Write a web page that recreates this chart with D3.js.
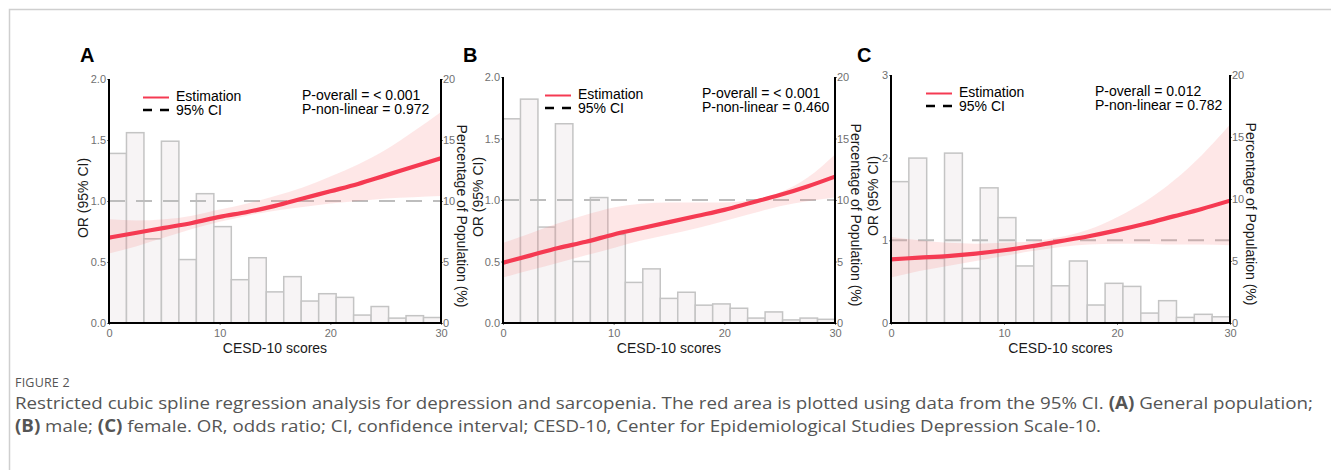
<!DOCTYPE html>
<html>
<head>
<meta charset="utf-8">
<script src="https://cdnjs.cloudflare.com/ajax/libs/d3/7.8.5/d3.min.js"></script>
<style>
  body { margin: 0; background: #fff; }
  svg text { font-family: "Liberation Sans", Arial, sans-serif; }
  .caption { font-family: "Open Sans", "Noto Sans", sans-serif; }
</style>
</head>
<body>
<svg id="fig" width="1331" height="470"></svg>
<script>
let splineScores = [0, 2.5, 5, 7.5, 10, 12.5, 15, 17.5, 20, 22.5, 25, 27.5, 30];
let xTicks = [0, 10, 20, 30];
let pctTicks = [0, 5, 10, 15, 20];
let binWidth = 30 / 19;

// A: general population
let histA = [13.9, 15.6, 6.9, 14.9, 5.2, 10.6, 7.9, 3.55, 5.35, 2.55, 3.8, 1.8, 2.4, 2.1, 0.65, 1.35, 0.4, 0.6, 0.45];
let estA = [0.70, 0.74, 0.78, 0.82, 0.87, 0.91, 0.96, 1.02, 1.08, 1.14, 1.21, 1.28, 1.35];
let lowA = [0.57, 0.63, 0.70, 0.77, 0.83, 0.88, 0.92, 0.95, 0.98, 1.00, 1.02, 1.03, 1.04];
let highA = [0.85, 0.84, 0.85, 0.88, 0.93, 0.98, 1.04, 1.11, 1.20, 1.30, 1.42, 1.57, 1.73];

// B: male
let histB = [16.6, 18.2, 7.8, 16.2, 5.0, 10.2, 7.2, 3.3, 4.4, 2.0, 2.5, 1.45, 1.55, 1.2, 0.4, 0.9, 0.25, 0.4, 0.3];
let estB = [0.49, 0.55, 0.61, 0.66, 0.72, 0.77, 0.82, 0.87, 0.92, 0.98, 1.04, 1.11, 1.19];
let lowB = [0.37, 0.43, 0.49, 0.55, 0.61, 0.67, 0.72, 0.77, 0.83, 0.89, 0.95, 0.99, 1.02];
let highB = [0.65, 0.73, 0.81, 0.88, 0.94, 0.97, 0.98, 0.98, 0.98, 1.00, 1.06, 1.18, 1.37];

// C: female
let histC = [11.4, 13.3, 5.2, 13.7, 4.4, 10.9, 8.5, 4.6, 6.3, 3.0, 5.0, 1.45, 3.2, 2.95, 0.8, 1.8, 0.45, 0.7, 0.5];
let estC = [0.77, 0.79, 0.81, 0.84, 0.88, 0.93, 0.99, 1.05, 1.12, 1.20, 1.29, 1.38, 1.48];
let lowC = [0.55, 0.63, 0.69, 0.75, 0.81, 0.87, 0.92, 0.95, 0.96, 0.96, 0.95, 0.95, 0.94];
let highC = [1.04, 1.00, 0.97, 0.96, 0.97, 0.99, 1.04, 1.13, 1.28, 1.47, 1.72, 2.03, 2.40];

let orTicksAB = [0, 0.5, 1, 1.5, 2];
let orTicksC = [0, 1, 2, 3];

let pOverall = ['< 0.001', '< 0.001', '0.012'];
let pNonLinear = ['0.972', '0.460', '0.782'];
let panelLetters = ['A', 'B', 'C'];

let panels = [
  {letter: panelLetters[0], left: 109, right: 441, top: 79, bottom: 323, orMax: 2, orTicks: orTicksAB, fmt: '.1f',
   hist: histA, est: estA, low: lowA, high: highA, p1: pOverall[0], p2: pNonLinear[0],
   letterX: 80, legendDx: 34, pDx: 193, leftLabelDx: -26},
  {letter: panelLetters[1], left: 503, right: 835, top: 77, bottom: 323, orMax: 2, orTicks: orTicksAB, fmt: '.1f',
   hist: histB, est: estB, low: lowB, high: highB, p1: pOverall[1], p2: pNonLinear[1],
   letterX: 463, legendDx: 42, pDx: 199, leftLabelDx: -25},
  {letter: panelLetters[2], left: 891, right: 1230, top: 75, bottom: 323, orMax: 3, orTicks: orTicksC, fmt: 'd',
   hist: histC, est: estC, low: lowC, high: highC, p1: pOverall[2], p2: pNonLinear[2],
   letterX: 857, legendDx: 35, pDx: 204, leftLabelDx: -18}
];

let svg = d3.select('#fig');

// frame around the figure
svg.append('path')
   .attr('d', 'M9.5,470 V9.5 H1331')
   .style('fill', 'none')
   .style('stroke', '#cfcfcf')
   .style('stroke-width', 1.5);

function drawPanel(p, idx) {
  let g = svg.append('g');
  let x = d3.scaleLinear().domain([0, 30]).range([p.left, p.right]);
  let yOR = d3.scaleLinear().domain([0, p.orMax]).range([p.bottom, p.top]);
  let yPct = d3.scaleLinear().domain([0, 20]).range([p.bottom, p.top]);

  let clipId = 'clip' + idx;
  svg.append('clipPath').attr('id', clipId)
     .append('rect')
     .attr('x', p.left).attr('y', p.top)
     .attr('width', p.right - p.left).attr('height', p.bottom - p.top);

  // histogram of the population
  g.selectAll('rect.bar').data(p.hist).join('rect')
   .attr('class', 'bar')
   .attr('x', (d, i) => x(i * binWidth))
   .attr('y', d => yPct(d))
   .attr('width', x(binWidth) - x(0))
   .attr('height', d => yPct(0) - yPct(d))
   .style('fill', '#f7f4f5')
   .style('stroke', '#c4c4c4')
   .style('stroke-width', 1.5);

  // reference OR = 1
  g.append('line')
   .attr('x1', x(0)).attr('x2', x(30))
   .attr('y1', yOR(1)).attr('y2', yOR(1))
   .style('stroke', '#bdbdbd')
   .style('stroke-width', 2)
   .style('stroke-dasharray', '16,11');

  let pts = splineScores.map((s, i) => ({s: s, est: p.est[i], low: p.low[i], high: p.high[i]}));

  let band = d3.area()
    .x(d => x(d.s))
    .y0(d => yOR(d.low))
    .y1(d => yOR(d.high))
    .curve(d3.curveMonotoneX);

  let line = d3.line()
    .x(d => x(d.s))
    .y(d => yOR(d.est))
    .curve(d3.curveMonotoneX);

  let inner = g.append('g').attr('clip-path', `url(#${clipId})`);
  inner.append('path').datum(pts)
       .attr('d', band)
       .style('fill', 'rgba(248, 115, 115, 0.17)');
  inner.append('path').datum(pts)
       .attr('d', line)
       .style('fill', 'none')
       .style('stroke', '#f53a52')
       .style('stroke-width', 4.2)
       .style('stroke-linecap', 'round');

  // axes (tick labels only; the black axis lines are drawn below)
  let styleAxis = (sel) => {
    sel.select('.domain').remove();
    sel.selectAll('.tick line').style('stroke', '#777').style('stroke-width', 1);
    sel.selectAll('.tick text').style('fill', '#707070').style('font-size', '11px')
       .style('font-family', '"Liberation Sans", Arial, sans-serif');
  };

  g.append('g').attr('transform', `translate(${p.left},0)`)
   .call(d3.axisLeft(yOR).tickValues(p.orTicks).tickFormat(d3.format(p.fmt)).tickSize(2).tickPadding(1))
   .call(styleAxis);

  g.append('g').attr('transform', `translate(${p.right},0)`)
   .call(d3.axisRight(yPct).tickValues(pctTicks).tickFormat(d3.format('d')).tickSize(2).tickPadding(0))
   .call(styleAxis);

  g.append('g').attr('transform', `translate(0,${p.bottom})`)
   .call(d3.axisBottom(x).tickValues(xTicks).tickFormat(d3.format('d')).tickSize(2).tickPadding(4))
   .call(styleAxis);

  g.append('path')
   .attr('d', `M${p.left},${p.top} V${p.bottom} H${p.right} V${p.top}`)
   .style('fill', 'none')
   .style('stroke', '#000')
   .style('stroke-width', 2);

  // panel letter
  g.append('text')
   .attr('x', p.letterX).attr('y', 62)
   .style('font-size', '20px').style('font-weight', 'bold')
   .text(p.letter);

  // axis titles
  let midY = (p.top + p.bottom) / 2;
  g.append('text')
   .attr('transform', `translate(${p.left + p.leftLabelDx},${midY - 3}) rotate(-90)`)
   .attr('text-anchor', 'middle')
   .attr('dy', '0.35em')
   .style('font-size', '14px').style('fill', '#1a1a1a')
   .text('OR (95% CI)');

  g.append('text')
   .attr('transform', `translate(${p.right + 21},${midY + 15}) rotate(90)`)
   .attr('text-anchor', 'middle')
   .attr('dy', '0.35em')
   .style('font-size', '14px').style('fill', '#1a1a1a')
   .text('Percentage of Population (%)');

  g.append('text')
   .attr('x', (p.left + p.right) / 2).attr('y', 353)
   .attr('text-anchor', 'middle')
   .style('font-size', '14px').style('fill', '#1a1a1a')
   .text('CESD-10 scores');

  // legend
  let lx = p.left + p.legendDx;
  let ly = p.top + 19;
  g.append('line')
   .attr('x1', lx).attr('x2', lx + 26).attr('y1', ly - 0.5).attr('y2', ly - 0.5)
   .style('stroke', '#f53a52').style('stroke-width', 2);
  g.append('line')
   .attr('x1', lx).attr('x2', lx + 26).attr('y1', ly + 12).attr('y2', ly + 12)
   .style('stroke', '#000').style('stroke-width', 2.5).style('stroke-dasharray', '9,8');
  g.append('text').attr('x', lx + 33).attr('y', ly - 1.5).attr('dy', '0.3em')
   .style('font-size', '14px').text('Estimation');
  g.append('text').attr('x', lx + 33).attr('y', ly + 12.5).attr('dy', '0.3em')
   .style('font-size', '14px').text('95% CI');

  g.append('text').attr('x', p.left + p.pDx).attr('y', ly - 2).attr('dy', '0.3em')
   .style('font-size', '14px').text('P-overall = ' + p.p1);
  g.append('text').attr('x', p.left + p.pDx).attr('y', ly + 12).attr('dy', '0.3em')
   .style('font-size', '14px').text('P-non-linear = ' + p.p2);
}

panels.forEach(drawPanel);

// caption
svg.append('text').attr('class', 'caption')
   .attr('x', 15).attr('y', 387)
   .style('font-size', '12.5px').style('fill', '#555').style('letter-spacing', '0.2px')
   .text('FIGURE 2');

let cap1 = svg.append('text').attr('class', 'caption')
   .attr('x', 15).attr('y', 409)
   .attr('textLength', 1298).attr('lengthAdjust', 'spacingAndGlyphs')
   .style('font-size', '17px').style('fill', '#555');
cap1.append('tspan').text('Restricted cubic spline regression analysis for depression and sarcopenia. The red area is plotted using data from the 95% CI. ');
cap1.append('tspan').style('font-weight', 'bold').text('(A)');
cap1.append('tspan').text(' General population;');

let cap2 = svg.append('text').attr('class', 'caption')
   .attr('x', 15).attr('y', 432)
   .attr('textLength', 1086).attr('lengthAdjust', 'spacingAndGlyphs')
   .style('font-size', '17px').style('fill', '#555');
cap2.append('tspan').style('font-weight', 'bold').text('(B)');
cap2.append('tspan').text(' male; ');
cap2.append('tspan').style('font-weight', 'bold').text('(C)');
cap2.append('tspan').text(' female. OR, odds ratio; CI, confidence interval; CESD-10, Center for Epidemiological Studies Depression Scale-10.');
</script>
</body>
</html>
